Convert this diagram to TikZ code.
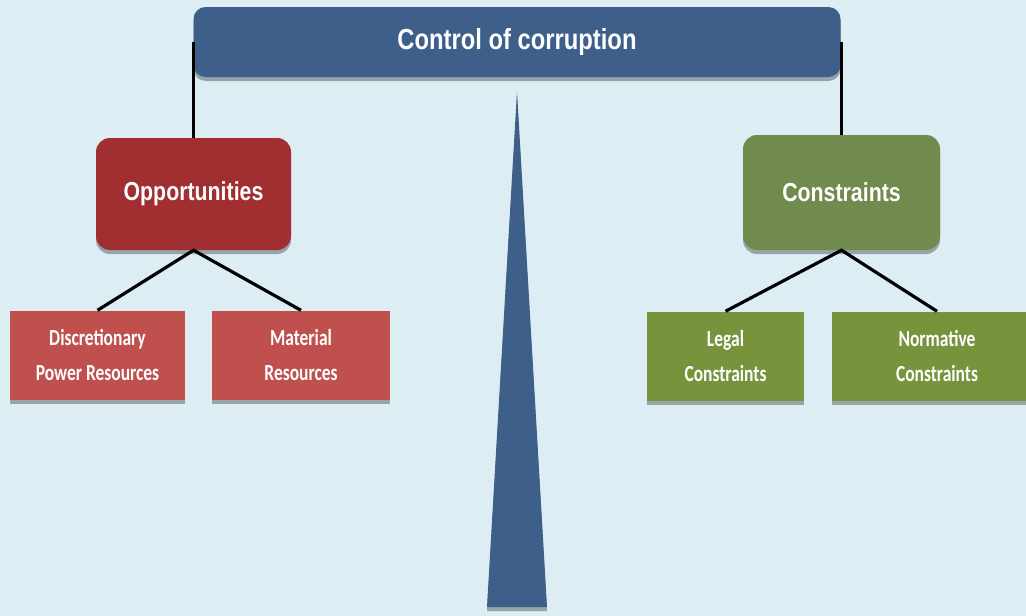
\documentclass[tikz,border=0pt]{standalone}
\usepackage{fontspec}
\setmainfont{Carlito}
\newfontfamily\headfont[FakeStretch=0.82]{Liberation Sans}
\newfontfamily\leaffont[FakeStretch=0.76]{Carlito}
\usetikzlibrary{shadows}

\definecolor{bgblue}{HTML}{DCEEF4}
\definecolor{barblue}{HTML}{3D5F8A}
\definecolor{oppred}{HTML}{A12E31}
\definecolor{congreen}{HTML}{718A4D}
\definecolor{leafred}{HTML}{C0504D}
\definecolor{leafgreen}{HTML}{77933C}

\tikzstyle{soft}=[drop shadow={shadow xshift=0pt,shadow yshift=-4pt,opacity=0.4,fill=black!80}]
\tikzstyle{head}=[fill=#1,soft,rounded corners=14pt,inner sep=0pt,text=white,font=\headfont\bfseries\fontsize{26}{30}\selectfont]
\tikzstyle{leaf}=[fill=#1,soft,inner sep=0pt,minimum height=89pt,text=white,align=center,font=\leaffont\bfseries\fontsize{23}{35}\selectfont]
\tikzstyle{link}=[draw=black,line width=3.2pt]
\newcommand{\leafbox}[5]{\node[leaf=#1,minimum width=#4] (#2) at (#3) {#5};}

\begin{document}
\begin{tikzpicture}[x=1pt,y=-1pt]
    \fill[bgblue] (0,0) rectangle (1026,616);
    \useasboundingbox (0,0) rectangle (1026,616);

    % fulcrum
    \fill[barblue,soft] (517,92) -- (547,607) -- (487,607) -- cycle;

    \node[head=barblue,rounded corners=12pt,minimum width=647pt,minimum height=70pt,font=\headfont\bfseries\fontsize{29}{33}\selectfont] (bar) at (517,42) {Control of corruption};

    \node[head=oppred,minimum width=195pt,minimum height=112pt] (opp) at (193.5,194) {Opportunities};
    \node[head=congreen,minimum width=197pt,minimum height=115pt] (con) at (841.5,192.5) {Constraints};

        \leafbox{leafred}{disc}{97.5,355}{175pt}{Discretionary\\Power Resources}
        \leafbox{leafred}{mat}{301,355}{178pt}{Material\\Resources}
        \leafbox{leafgreen}{legal}{725.5,356}{157pt}{Legal\\Constraints}
        \leafbox{leafgreen}{norm}{937,356}{210pt}{Normative\\Constraints}

   \draw[link] (opp.north) -- (opp.north |- bar.center);
   \draw[link] (con.north) -- (con.north |- bar.center);
   \draw[link] (disc.north) -- (opp.south) -- (mat.north);
   \draw[link] (legal.north) -- (con.south) -- (norm.north);
\end{tikzpicture}
\end{document}
